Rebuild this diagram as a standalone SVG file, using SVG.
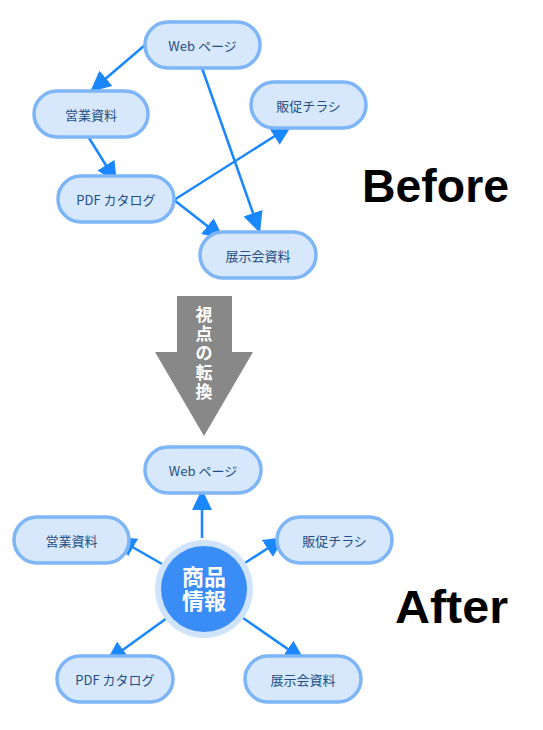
<svg xmlns="http://www.w3.org/2000/svg" width="543" height="730" viewBox="0 0 543 730">
<style>
.node rect{fill:#d7e8fc;stroke:#7db5f7;stroke-width:3.5}
.node text{font-family:"Noto Sans CJK JP","Noto Sans",sans-serif;font-size:13px;fill:#1f4f85;text-anchor:middle;dominant-baseline:central}
.conn line{stroke:#1a87ff;stroke-width:2.5;marker-end:url(#ah)}
.big{font-family:"Liberation Sans","Noto Sans CJK JP",sans-serif;font-weight:bold;font-size:47px;fill:#000}
.white{font-family:"Noto Sans CJK JP",sans-serif;font-weight:bold;fill:#fff;text-anchor:middle}
</style>
<defs>
<marker id="ah" markerUnits="userSpaceOnUse" markerWidth="21" markerHeight="20" refX="21" refY="10" orient="auto">
<path d="M0,0 L21,10 L0,20 z" fill="#1a87ff"/>
</marker>
</defs>
<rect width="543" height="730" fill="#fff"/>

<g id="connectors-before" class="conn">
<line x1="145" y1="45" x2="90" y2="92"/>
<line x1="202" y1="68" x2="260" y2="233"/>
<line x1="89" y1="138" x2="117" y2="183"/>
<line x1="174" y1="200" x2="292" y2="125"/>
<line x1="174" y1="200" x2="224" y2="239"/>
</g>

<g id="b-web" class="node"><rect x="145" y="22" width="115" height="46" rx="23"/><text x="202.5" y="45">Web ページ</text></g>
<g id="b-eigyo" class="node"><rect x="34" y="91" width="114" height="46" rx="23"/><text x="91" y="114">営業資料</text></g>
<g id="b-hansoku" class="node"><rect x="251" y="82" width="115" height="46" rx="23"/><text x="308.5" y="105">販促チラシ</text></g>
<g id="b-pdf" class="node"><rect x="58" y="176" width="116" height="46" rx="23"/><text x="116" y="199">PDF カタログ</text></g>
<g id="b-tenji" class="node"><rect x="200" y="232" width="116" height="46" rx="23"/><text x="258" y="255">展示会資料</text></g>

<text id="before" class="big" x="362" y="202" textLength="147" lengthAdjust="spacingAndGlyphs">Before</text>

<g id="shift-arrow">
<polygon points="177,296 232,296 232,352 253,352 204,436 155,352 177,352" fill="#888888"/>
<text class="white" font-size="17"><tspan x="204" y="321">視</tspan><tspan x="204" y="340">点</tspan><tspan x="204" y="359">の</tspan><tspan x="204" y="379">転</tspan><tspan x="204" y="398">換</tspan></text>
</g>

<g id="connectors-after" class="conn">
<line x1="202" y1="538" x2="202" y2="489"/>
<line x1="162" y1="564" x2="115" y2="537"/>
<line x1="245" y1="563" x2="285" y2="537"/>
<line x1="167" y1="618" x2="106" y2="662"/>
<line x1="243" y1="618" x2="305" y2="661"/>
</g>

<g id="a-center">
<circle cx="204" cy="589" r="49" fill="#cfe3fb"/>
<circle cx="204" cy="589" r="43" fill="#3a8cf7"/>
<text class="white" font-size="22"><tspan x="204" y="585">商品</tspan><tspan x="204" y="609">情報</tspan></text>
</g>
<g id="a-web" class="node"><rect x="145" y="447" width="116" height="46" rx="23"/><text x="203" y="470">Web ページ</text></g>
<g id="a-eigyo" class="node"><rect x="14" y="517" width="115" height="46" rx="23"/><text x="71.5" y="540">営業資料</text></g>
<g id="a-hansoku" class="node"><rect x="277" y="517" width="115" height="46" rx="23"/><text x="334.5" y="540">販促チラシ</text></g>
<g id="a-pdf" class="node"><rect x="57" y="656" width="116" height="46" rx="23"/><text x="115" y="679">PDF カタログ</text></g>
<g id="a-tenji" class="node"><rect x="245" y="656" width="116" height="46" rx="23"/><text x="303" y="679">展示会資料</text></g>

<text id="after" class="big" x="395" y="623" textLength="113" lengthAdjust="spacingAndGlyphs">After</text>
</svg>
